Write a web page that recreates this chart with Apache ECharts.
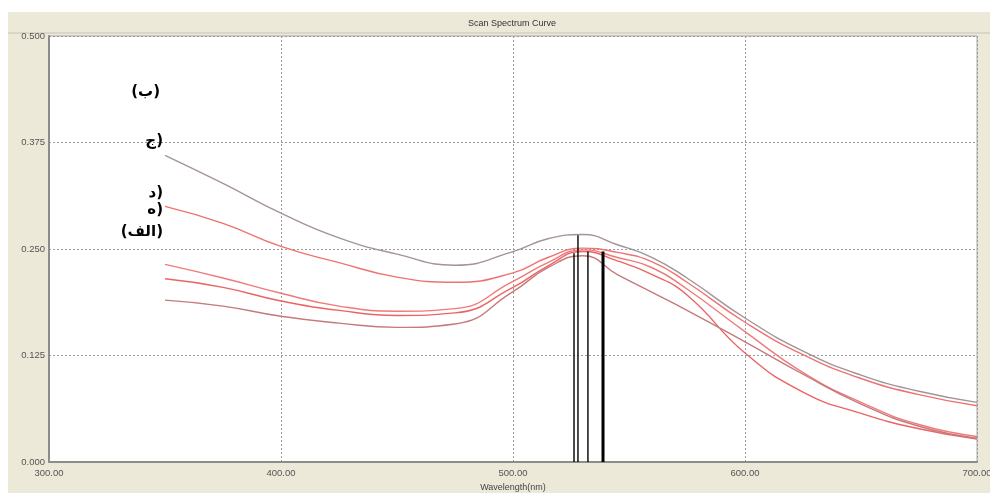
<!DOCTYPE html>
<html>
<head>
<meta charset="utf-8">
<script src="https://cdn.jsdelivr.net/npm/echarts@6/dist/echarts.min.js"></script>
<style>html,body{margin:0;padding:0;background:#fff;}#c{width:990px;height:493px;}</style>
</head>
<body>
<div id="c"></div>
<script>
const wavelengths = [350, 375, 400, 425, 450, 475, 500, 515, 530, 545, 560, 575, 600, 625, 650, 675, 700];
const curveA = [0.360, 0.327, 0.292, 0.263, 0.244, 0.231, 0.247, 0.262, 0.267, 0.255, 0.240, 0.216, 0.169, 0.130, 0.102, 0.083, 0.070];
const curveB = [0.300, 0.280, 0.253, 0.234, 0.217, 0.211, 0.222, 0.240, 0.251, 0.246, 0.235, 0.211, 0.164, 0.126, 0.098, 0.079, 0.066];
const curveC = [0.232, 0.216, 0.198, 0.183, 0.177, 0.180, 0.212, 0.234, 0.249, 0.240, 0.228, 0.203, 0.153, 0.105, 0.070, 0.044, 0.030];
const curveD = [0.215, 0.205, 0.189, 0.178, 0.172, 0.175, 0.205, 0.230, 0.247, 0.236, 0.220, 0.196, 0.128, 0.082, 0.057, 0.039, 0.027];
const curveE = [0.190, 0.183, 0.171, 0.163, 0.158, 0.162, 0.200, 0.228, 0.242, 0.220, 0.199, 0.178, 0.141, 0.103, 0.068, 0.042, 0.028];
const peakWavelengths = [526.3, 528.0, 532.3, 538.8];
const peakHeights = [0.245, 0.266, 0.247, 0.247];
const xTicks = [300, 400, 500, 600, 700];
const yTicks = [0, 0.125, 0.25, 0.375, 0.5];
const titleText = 'Scan Spectrum Curve';
const xName = 'Wavelength(nm)';
const sampleLabels = ['(ب)', 'ج)', 'د)', 'ه)', '(الف)'];

const pairs = arr => wavelengths.map((w, i) => [w, arr[i]]);
const curveColors = ['#a3939a', '#ef7272', '#ef7a7a', '#ec6363', '#c47a7e'];
const curves = [curveA, curveB, curveC, curveD, curveE];

const series = curves.map((c, i) => ({
  type: 'line', data: pairs(c), smooth: 0.5, symbol: 'none',
  lineStyle: { color: curveColors[i], width: 1.4 }, silent: true, z: 3
}));
peakWavelengths.forEach((w, i) => {
  series.push({
    type: 'line', data: [[w, 0], [w, peakHeights[i]]], symbol: 'none',
    lineStyle: { color: '#000', width: i === 3 ? 3 : 1.4 }, silent: true, z: 4
  });
});

const labelPos = [[160, 92], [163, 141], [163, 193], [163, 210], [163, 232]];
const graphics = [
  { type: 'rect', shape: { x: 8, y: 12, width: 982, height: 481 }, style: { fill: '#ECE9D8' }, z: -10, silent: true },
  { type: 'line', shape: { x1: 8, y1: 33, x2: 990, y2: 33 }, style: { stroke: '#c8c4b0', lineWidth: 1 }, z: -9, silent: true },
  { type: 'text', x: 512, y: 24, style: { text: titleText, fill: '#333', font: '9px "Liberation Sans"', textAlign: 'center', textVerticalAlign: 'middle' }, z: 10 }
];
sampleLabels.forEach((t, i) => {
  graphics.push({ type: 'text', x: labelPos[i][0], y: labelPos[i][1],
    style: { text: t, fill: '#000', font: 'bold 15px "DejaVu Sans"', textAlign: 'right', textVerticalAlign: 'middle' }, z: 10 });
});

const chart = echarts.init(document.getElementById('c'));
chart.setOption({
  animation: false,
  backgroundColor: '#ffffff',
  grid: { left: 49, right: 13, top: 36, bottom: 31, outerBoundsMode: 'none', containLabel: false, show: true, backgroundColor: '#ffffff', borderColor: '#a8a8a8', borderWidth: 1 },
  xAxis: {
    type: 'value', min: xTicks[0], max: xTicks[xTicks.length - 1], interval: 100,
    name: xName, nameLocation: 'middle', nameGap: 20,
    nameTextStyle: { fontSize: 9, color: '#444', fontFamily: 'Liberation Sans' },
    axisLine: { show: true, lineStyle: { color: '#8c8c8c', width: 2 } },
    axisTick: { show: false },
    axisLabel: { fontSize: 9.5, color: '#555', fontFamily: 'Liberation Sans', margin: 6, formatter: v => v.toFixed(2) },
    splitLine: { show: true, lineStyle: { color: '#9a9a9a', type: [2, 2], width: 1 } }
  },
  yAxis: {
    type: 'value', min: yTicks[0], max: yTicks[yTicks.length - 1], interval: 0.125,
    axisLine: { show: true, lineStyle: { color: '#8c8c8c', width: 2 } },
    axisTick: { show: false },
    axisLabel: { fontSize: 9.5, color: '#555', fontFamily: 'Liberation Sans', margin: 4, formatter: v => v.toFixed(3) },
    splitLine: { show: true, lineStyle: { color: '#9a9a9a', type: [2, 2], width: 1 } }
  },
  graphic: graphics,
  series: series
});
</script>
</body>
</html>
